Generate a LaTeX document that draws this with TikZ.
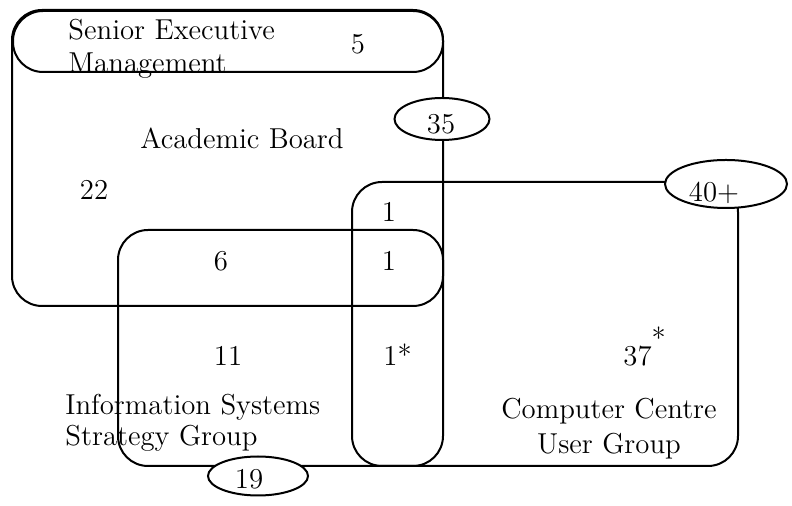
\documentclass[tikz,border=0pt]{standalone}
\usetikzlibrary{shapes.geometric}

\tikzset{
    grp/.style={draw, line width=1pt, rounded corners=15pt},
    tag/.style={draw, ellipse, line width=1pt, fill=white, inner sep=0pt},
    every node/.style={font=\fontsize{14.4pt}{15pt}\selectfont, inner sep=0pt}
}

\begin{document}
\begin{tikzpicture}[x=0.5pt, y=-0.5pt]
        \useasboundingbox (0,0) rectangle (792,506);

        % academic board
        \draw [grp] (12, 10) rectangle (443, 306);
        \draw [grp] (13, 11) rectangle (443, 72);

        % information systems strategy group
        \draw [grp] (118, 230) rectangle (443, 466);

        % computer centre user group
        \draw [grp] (352, 182) rectangle (738, 466);

        % totals
        \node [tag, minimum width=47.5pt, minimum height=21pt] (tag35) at (442, 119) {};
        \node [tag, minimum width=61pt, minimum height=24pt] (tag40) at (726, 184) {};
        \node [tag, minimum width=50pt, minimum height=19.5pt] (tag19) at (258, 476) {};

        \node (n35) at (441, 124) {35};
        \node (n40) at (714, 193) {40+};
        \node (n19) at (249, 479) {19};

        % names
        \node [anchor=north west, align=left] (sem) at (68, 19) {Senior Executive\\[1.5pt]Management};
        \node (ab) at (242, 138) {Academic Board};
        \node [anchor=north west, align=left] (issg) at (65, 394) {Information Systems\\[0.5pt]Strategy Group};
        \node [anchor=north, align=center] (ccug) at (609, 398) {Computer Centre\\[2.5pt]User Group};

        % counts
        \node (c5) at (358, 44) {5};
        \node (c22) at (94, 190) {22};
        \node (c1a) at (389, 212) {1};
        \node (c6) at (221, 261) {6};
        \node (c1b) at (389, 261) {1};
        \node (c11) at (228, 356) {11};
        \node [anchor=base west] (c1c) at (383, 366) {1*};
        \node [anchor=base west] (c37) at (623, 366) {37\raisebox{0.6em}{*}};

    \end{tikzpicture}
\end{document}
